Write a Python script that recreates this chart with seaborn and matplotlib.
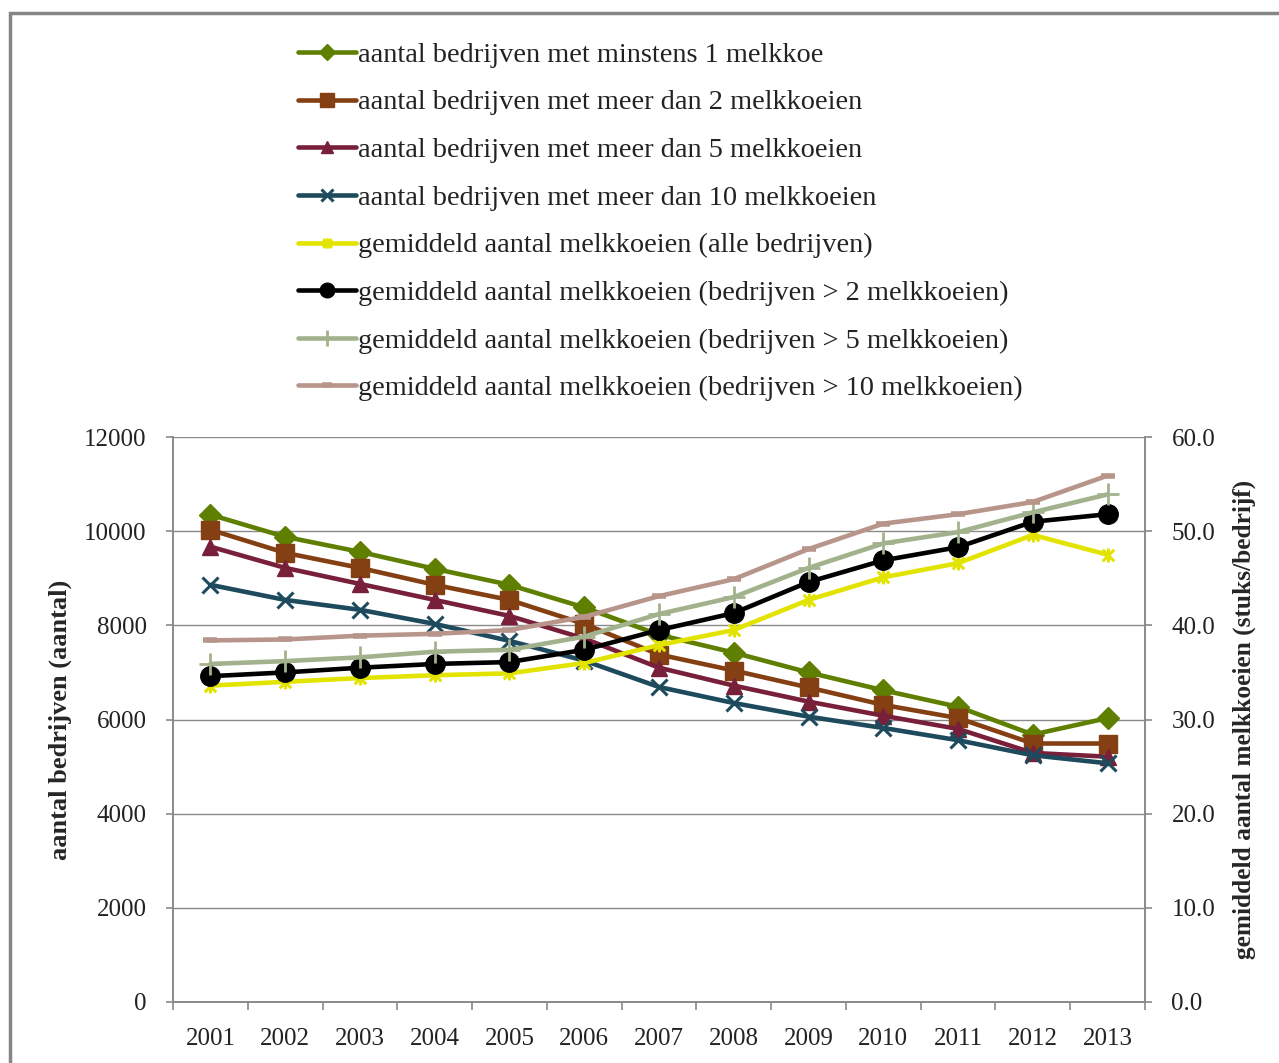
import numpy as np
import pandas as pd
import matplotlib
matplotlib.use("Agg")
import matplotlib.pyplot as plt
from matplotlib.path import Path
from matplotlib.patches import Rectangle
import seaborn as sns

# --- data -------------------------------------------------------------
years = ["2001", "2002", "2003", "2004", "2005", "2006", "2007",
         "2008", "2009", "2010", "2011", "2012", "2013"]

# number of farms (left axis)
bedrijven_min1 = [10350, 9880, 9560, 9200, 8860, 8380, 7800,
                  7420, 7000, 6620, 6270, 5680, 6030]
bedrijven_gt2 = [10030, 9540, 9220, 8860, 8540, 8030, 7380,
                 7040, 6680, 6310, 6030, 5490, 5490]
bedrijven_gt5 = [9670, 9220, 8880, 8540, 8200, 7720, 7100,
                 6720, 6380, 6080, 5800, 5290, 5210]
bedrijven_gt10 = [8860, 8540, 8330, 8030, 7670, 7250, 6690,
                  6350, 6060, 5820, 5560, 5240, 5070]

# average number of dairy cows per farm (right axis)
gem_alle = [33.6, 34.0, 34.4, 34.7, 34.9, 36.0, 37.9,
            39.5, 42.7, 45.1, 46.6, 49.6, 47.5]
gem_gt2 = [34.6, 35.0, 35.5, 35.9, 36.1, 37.4, 39.5,
           41.3, 44.6, 46.9, 48.3, 51.0, 51.8]
gem_gt5 = [35.9, 36.2, 36.6, 37.2, 37.4, 38.8, 41.2,
           43.0, 46.1, 48.7, 49.9, 52.0, 53.9]
gem_gt10 = [38.4, 38.5, 38.9, 39.1, 39.5, 40.9, 43.1,
            44.9, 48.1, 50.8, 51.8, 53.1, 55.9]

labels = [
    "aantal bedrijven met minstens 1 melkkoe",
    "aantal bedrijven met meer dan 2 melkkoeien",
    "aantal bedrijven met meer dan 5 melkkoeien",
    "aantal bedrijven met meer dan 10 melkkoeien",
    "gemiddeld aantal melkkoeien (alle bedrijven)",
    "gemiddeld aantal melkkoeien (bedrijven > 2 melkkoeien)",
    "gemiddeld aantal melkkoeien (bedrijven > 5 melkkoeien)",
    "gemiddeld aantal melkkoeien (bedrijven > 10 melkkoeien)",
]

# --- style ------------------------------------------------------------
sns.set_theme(style="white")
plt.rcParams["font.family"] = ["Liberation Serif", "DejaVu Serif"]
plt.rcParams["text.color"] = "#222222"

grey = "#8a8a8a"
x = np.arange(len(years))

# asterisk marker: an x with a vertical bar
star = Path([(-1, -1), (1, 1), (-1, 1), (1, -1), (0, -1.2), (0, 1.2)],
            [Path.MOVETO, Path.LINETO, Path.MOVETO, Path.LINETO,
             Path.MOVETO, Path.LINETO])

fig = plt.figure(figsize=(12.79, 10.63), dpi=100)
ax = fig.add_axes([173 / 1279, 1 - 1002 / 1063, 972 / 1279, 565 / 1063])
ax2 = ax.twinx()

lw = 3.3
left_series = [
    (bedrijven_min1, "#5f7f00", "D", 11, 1.0),
    (bedrijven_gt2, "#843f12", "s", 13, 1.0),
    (bedrijven_gt5, "#78203a", "^", 12, 1.0),
    (bedrijven_gt10, "#1d4a5c", "x", 12, 2.2),
]
right_series = [
    (gem_alle, "#e3e300", star, 10, 2.2),
    (gem_gt2, "#000000", "o", 14, 1.0),
    (gem_gt5, "#a2b28c", "+", 16, 2.0),
    (gem_gt10, "#b8958b", "_", 10, 4.0),
]

for (vals, col, mk, ms, mew), lab in zip(left_series, labels[:4]):
    sns.lineplot(x=x, y=vals, ax=ax, color=col, linewidth=lw, marker=mk,
                 markersize=ms, markeredgecolor=col, markerfacecolor=col,
                 markeredgewidth=mew, label=lab, legend=False)
for (vals, col, mk, ms, mew), lab in zip(right_series, labels[4:]):
    sns.lineplot(x=x, y=vals, ax=ax2, color=col, linewidth=lw, marker=mk,
                 markersize=ms, markeredgecolor=col, markerfacecolor=col,
                 markeredgewidth=mew, label=lab, legend=False)

# --- axes -------------------------------------------------------------
ax.set_xlim(-0.5, len(years) - 0.5)
ax.set_ylim(0, 12000)
ax2.set_ylim(0, 60)
ax.set_yticks(np.arange(0, 12001, 2000))
ax2.set_yticks(np.arange(0, 60.1, 10))
ax2.set_yticklabels([f"{v:.1f}" for v in np.arange(0, 60.1, 10)])
ax.set_xticks(x)
ax.set_xticklabels(years)
ax.set_xticks(np.arange(-0.5, len(years), 1), minor=True)

ax.grid(axis="y", color=grey, linewidth=1.0)
ax.grid(axis="x", visible=False)
ax2.grid(False)

for a in (ax, ax2):
    for side in ("left", "right", "bottom"):
        a.spines[side].set_color(grey)
        a.spines[side].set_linewidth(1.2)
    a.spines["top"].set_visible(False)

ax.tick_params(axis="x", which="major", length=0, pad=18.5,
               labelsize=18, labelcolor="#222222")
ax.tick_params(axis="x", which="minor", length=6, width=1.2, color=grey,
               direction="out", bottom=True)
ax.tick_params(axis="y", length=5, width=1.2, color=grey, direction="out",
               pad=14, labelsize=18, labelcolor="#222222", left=True)
ax2.tick_params(axis="y", length=5, width=1.2, color=grey, direction="out",
                pad=14, labelsize=18, labelcolor="#222222", right=True)

ax.set_xlabel("")
ax.set_ylabel("aantal bedrijven (aantal)", fontsize=19, fontweight="bold")
ax2.set_ylabel("gemiddeld aantal melkkoeien (stuks/bedrijf)", fontsize=18.3,
               fontweight="bold", rotation=90)
ax.yaxis.set_label_coords(-0.104, 0.5)
ax2.yaxis.set_label_coords(1.0905, 0.5)

# --- legend -----------------------------------------------------------
h1, l1 = ax.get_legend_handles_labels()
h2, l2 = ax2.get_legend_handles_labels()
fig.legend(h1 + h2, l1 + l2, loc="upper left",
           bbox_to_anchor=(298 / 1279, 1 - 42 / 1063),
           frameon=False, fontsize=20.4, handlelength=2.05, handletextpad=0.05,
           labelspacing=0.77, borderpad=0, borderaxespad=0, markerscale=0.75)

# outer frame
fig.patches.append(Rectangle((10 / 1279, -0.1), 1.2, 1.1 - 13 / 1063,
                             transform=fig.transFigure, fill=False,
                             edgecolor="#858585", linewidth=2.5))

fig.savefig("out.png", dpi=100)
